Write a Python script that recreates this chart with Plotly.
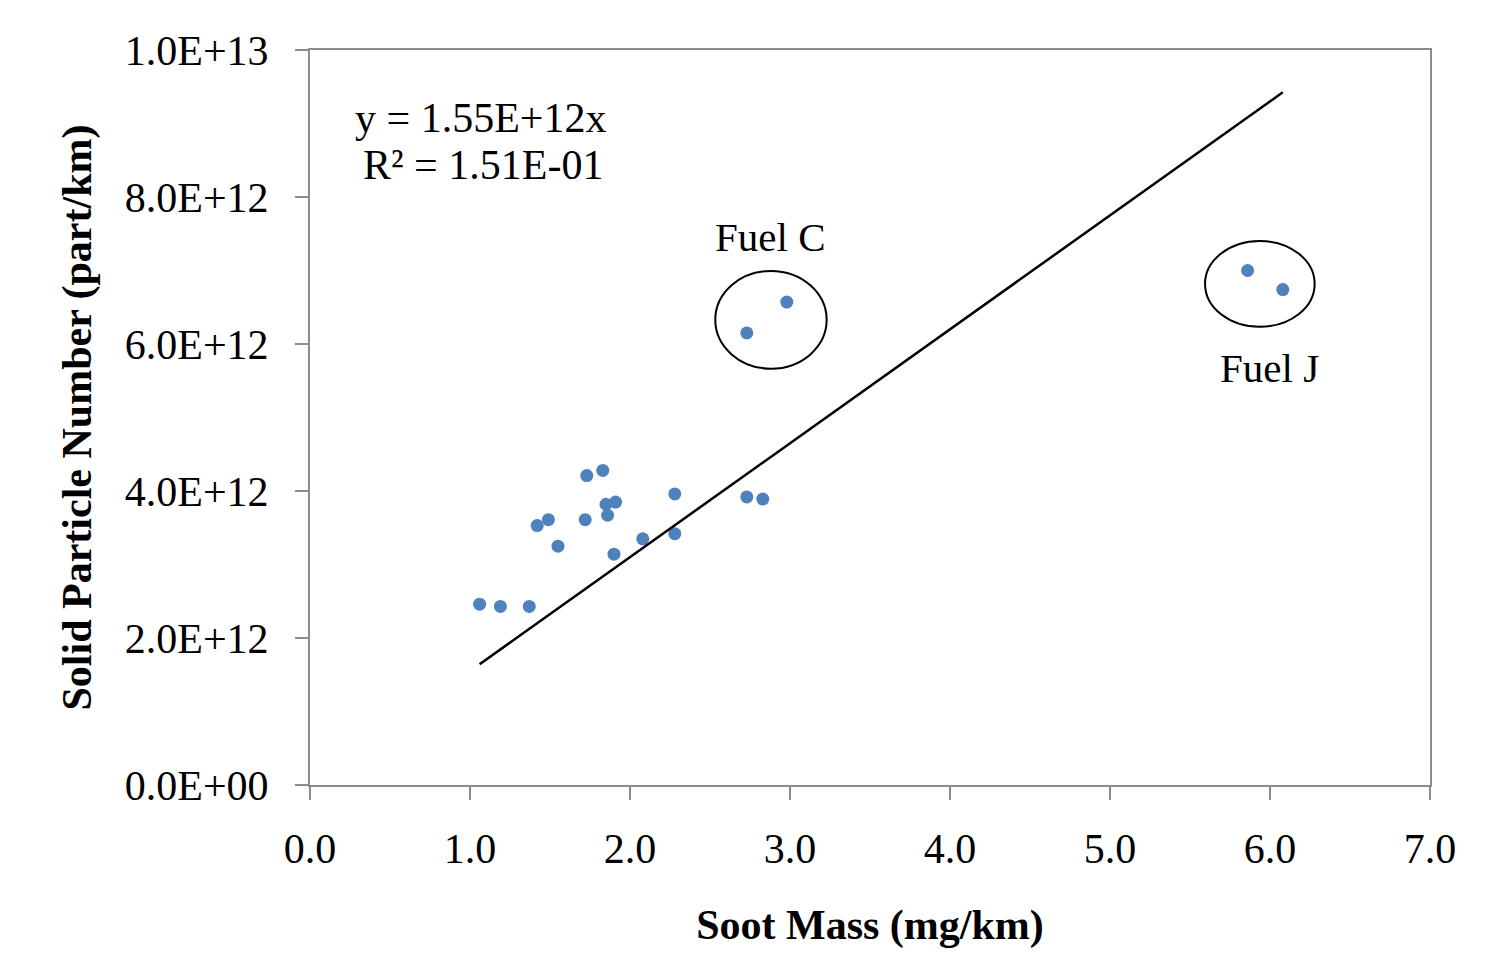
import plotly.graph_objects as go

# Data
soot_mass = [1.06, 1.19, 1.37, 1.42, 1.49, 1.55, 1.72, 1.73, 1.83, 1.85, 1.86, 1.90, 1.91,
             2.08, 2.28, 2.28, 2.73, 2.83, 2.73, 2.98, 5.86, 6.08]
particle_number = [2.46e12, 2.43e12, 2.43e12, 3.53e12, 3.61e12, 3.25e12, 3.61e12, 4.21e12,
                   4.28e12, 3.82e12, 3.67e12, 3.14e12, 3.85e12, 3.35e12, 3.96e12, 3.42e12,
                   3.92e12, 3.89e12, 6.15e12, 6.57e12, 7.00e12, 6.74e12]
slope = 1.55e12
x_ticks = [0, 1, 2, 3, 4, 5, 6, 7]
y_ticks = [0, 2e12, 4e12, 6e12, 8e12, 1e13]
y_ticktext = ["0.0E+00", "2.0E+12", "4.0E+12", "6.0E+12", "8.0E+12", "1.0E+13"]
equation_lines = ["y = 1.55E+12x", "R² = 1.51E-01"]
fuel_c_box = [2.533, 5.664e12, 3.229, 6.993e12]
fuel_j_box = [5.594, 6.235e12, 6.279, 7.401e12]

FONT = "Liberation Serif, Times New Roman, serif"

fig = go.Figure()
fig.add_trace(go.Scatter(
    x=soot_mass, y=particle_number, mode="markers",
    marker=dict(color="#4F81BD", size=13), showlegend=False))

xmin, xmax = min(soot_mass), max(soot_mass)
fig.add_trace(go.Scatter(
    x=[xmin, xmax], y=[slope * xmin, slope * xmax], mode="lines",
    line=dict(color="black", width=2.5), showlegend=False))

for box in (fuel_c_box, fuel_j_box):
    fig.add_shape(type="circle", xref="x", yref="y",
                  x0=box[0], y0=box[1], x1=box[2], y1=box[3],
                  line=dict(color="black", width=2))

fig.add_annotation(x=2.875, y=7.46e12, text="Fuel C", showarrow=False,
                   font=dict(family=FONT, size=41, color="black"))
fig.add_annotation(x=5.996, y=5.67e12, text="Fuel J", showarrow=False,
                   font=dict(family=FONT, size=41, color="black"))
fig.add_annotation(x=1.07, y=9.075e12, text=equation_lines[0], showarrow=False,
                   font=dict(family=FONT, size=42, color="black"))
fig.add_annotation(x=1.08, y=8.435e12, text=equation_lines[1], showarrow=False,
                   font=dict(family=FONT, size=42, color="black"))

axis_common = dict(showgrid=False, zeroline=False, showline=True, linecolor="#8c8c8c",
                   linewidth=2, mirror=True, ticks="outside", ticklen=13,
                   tickcolor="#8c8c8c", tickwidth=2,
                   tickfont=dict(family=FONT, size=42, color="black"))

fig.update_xaxes(range=[0, 7], tickvals=x_ticks, tickformat=".1f",
                 title=dict(text="<b>Soot Mass (mg/km)</b>", standoff=38,
                            font=dict(family=FONT, size=42, color="black")),
                 ticklabelstandoff=13, **axis_common)
fig.update_yaxes(range=[0, 1e13], tickvals=y_ticks, ticktext=y_ticktext,
                 title=dict(text="<b>Solid Particle Number (part/km)</b>", standoff=20,
                            font=dict(family=FONT, size=42, color="black")),
                 ticklabelstandoff=18, **axis_common)

fig.update_layout(width=1477, height=948, plot_bgcolor="white", paper_bgcolor="white",
                  margin=dict(l=302, r=55, t=42, b=171, autoexpand=False))

fig.write_html("out.html")
